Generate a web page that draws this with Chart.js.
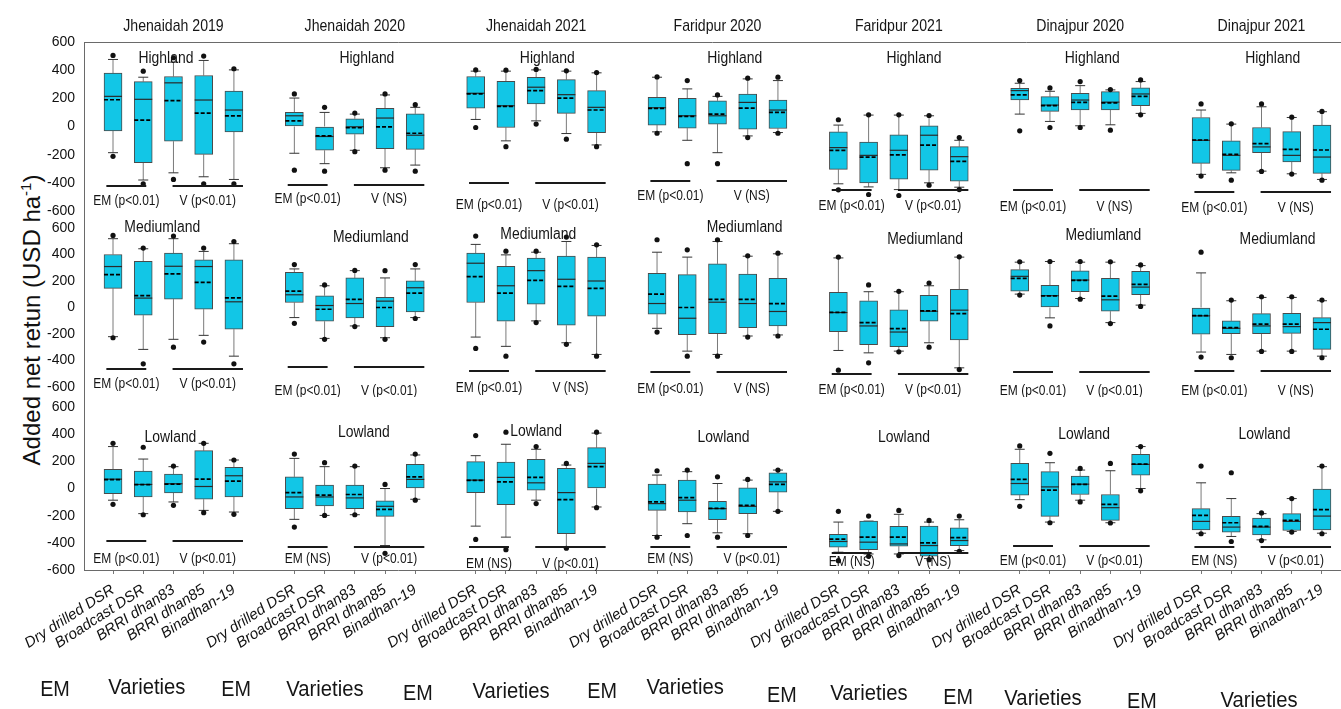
<!DOCTYPE html>
<html>
<head>
<meta charset="utf-8">
<title>Added net return by establishment method and variety</title>
<script src="https://cdn.jsdelivr.net/npm/chart.js@4.4.1/dist/chart.umd.min.js"></script>
<style>
  html, body { margin: 0; padding: 0; background: #fff; }
  #figure { position: relative; width: 1341px; height: 709px; overflow: hidden; }
  #figure canvas { position: absolute; left: 0; }
  #yTitle {
    position: absolute; left: 31px; top: 320px;
    transform: translate(-50%, -50%) rotate(-90deg);
    white-space: nowrap; color: #111;
    font: 24px 'Liberation Sans', Arial, sans-serif;
  }
  #yTitle sup { font-size: 15px; }
</style>
</head>
<body>
<div id="figure">
  <div id="yTitle">Added net retun (USD ha<sup>-1</sup>)</div>
  <canvas id="rowHigh" width="1341" height="220" style="top:0"></canvas>
  <canvas id="rowMedium" width="1341" height="177" style="top:220px"></canvas>
  <canvas id="rowLow" width="1341" height="312" style="top:397px"></canvas>
</div>
<script>
// site-years (columns), land types (rows) and the five treatments in each panel
const sites = ['Jhenaidah 2019', 'Jhenaidah 2020', 'Jhenaidah 2021', 'Faridpur 2020', 'Faridpur 2021', 'Dinajpur 2020', 'Dinajpur 2021'];
const lands = ['Highland', 'Mediumland', 'Lowland'];
const treatments = ['Dry drilled DSR', 'Broadcast DSR', 'BRRI dhan83', 'BRRI dhan85', 'Binadhan-19'];
const yTicks = [-600, -400, -200, 0, 200, 400, 600];

// each box: [lower whisker, Q1, median, Q3, upper whisker, mean, low dot, high dot]
const highland = [
  [[-186, -31, 214, 379, 476, 190, -212, 505], [-380, -257, 193, 319, 350, 45, -407, 393], [-329, -105, 310, 355, 457, 183, -376, 488], [-357, -198, 188, 362, 469, 95, -407, 500], [-376, -38, 117, 252, 402, 76, -407, 410]],
  [[-190, 0, 76, 100, 202, 40, -310, 231], [-264, -169, -71, 0, 100, -66, -317, 136], [-169, -55, -2, 55, 88, -9, -179, 95], [-293, -157, 60, 129, 224, -2, -310, 231], [-274, -162, -62, 90, 136, -48, -317, 155]],
  [[50, 131, 236, 355, 393, 231, -7, 402], [-102, -7, 147, 321, 393, 143, -143, 400], [40, 160, 279, 350, 402, 255, 17, 405], [-50, 93, 226, 333, 393, 202, -90, 395], [-131, -43, 136, 255, 381, 117, -143, 383]],
  [[-38, 10, 133, 207, 350, 129, -48, 352], [-98, -12, 76, 200, 267, 72, -264, 326], [-186, 17, 76, 183, 214, 88, -264, 224], [-67, -19, 171, 231, 338, 131, -79, 343], [-43, -14, 117, 188, 326, 100, -48, 350]],
  [[-407, -305, -150, -38, 10, -169, -450, 48], [-429, -400, -205, -110, 81, -217, -483, 83], [-448, -374, -169, -60, 81, -202, -490, 83], [-400, -310, -62, 5, 76, -133, -417, 78], [-431, -388, -214, -143, -98, -248, -448, -79]],
  [[88, 188, 255, 271, 307, 224, -31, 326], [36, 107, 152, 212, 250, 148, -7, 274], [5, 117, 188, 236, 290, 171, -7, 319], [12, 117, 173, 248, 260, 168, -26, 262], [93, 148, 231, 274, 319, 214, 83, 331]],
  [[-340, -262, -98, 64, 117, -96, -352, 160], [-329, -312, -205, -102, 17, -198, -381, 19], [-317, -186, -145, -7, 140, -121, -319, 160], [-336, -252, -205, -36, 64, -162, -338, 66], [-376, -333, -217, 10, 105, -167, -381, 107]]
];
const mediumland = [
  [[-220, 144, 309, 400, 519, 248, -228, 544], [-316, -58, 71, 349, 443, 89, -425, 448], [-240, 63, 311, 410, 519, 253, -299, 539], [-210, -13, 309, 359, 423, 190, -261, 448], [-367, -164, 43, 359, 481, 73, -425, 498]],
  [[-76, 38, 96, 266, 291, 124, -119, 324], [-233, -104, 15, 89, 164, -13, -240, 170], [-139, -78, 30, 223, 278, 61, -144, 280], [-228, -144, 48, 76, 223, 0, -240, 278], [-76, -33, 149, 202, 291, 109, -83, 324]],
  [[-223, 38, 334, 410, 476, 233, -309, 539], [-293, -104, 164, 311, 397, 109, -367, 425], [-101, 25, 278, 372, 417, 205, -114, 425], [-266, -134, 213, 387, 498, 159, -278, 531], [-354, -66, 200, 380, 468, 144, -367, 473]],
  [[-157, -51, 30, 258, 417, 101, -185, 511], [-329, -205, -81, 248, 380, 0, -367, 435], [-354, -197, 40, 329, 498, 61, -367, 511], [-215, -152, 30, 253, 387, 61, -223, 390], [-207, -139, -30, 220, 405, 30, -215, 410]],
  [[-324, -182, -38, 114, 374, -36, -473, 380], [-342, -281, -139, 51, 119, -114, -417, 170], [-329, -296, -185, -18, 119, -159, -334, 122], [-266, -104, -28, 91, 164, -26, -299, 185], [-455, -245, -20, 137, 380, -46, -468, 382]],
  [[101, 124, 235, 286, 342, 220, 94, 345], [-78, 0, 89, 167, 347, 87, -139, 347], [68, 119, 207, 276, 342, 205, 63, 347], [-114, -28, 58, 220, 342, 86, -121, 345], [18, 96, 154, 273, 316, 175, 8, 321]],
  [[-336, -202, -63, 0, 261, -61, -374, 417], [-354, -197, -157, -101, 51, -152, -379, 56], [-329, -197, -139, -46, 76, -126, -331, 81], [-329, -195, -144, -44, 76, -126, -331, 81], [-367, -316, -114, -76, 51, -164, -379, 56]]
];
const lowland = [
  [[-86, -37, 69, 141, 309, 66, -116, 333], [-185, -62, 30, 128, 217, 28, -193, 304], [-99, -32, 35, 106, 161, 33, -124, 165], [-161, -79, 15, 279, 333, 69, -178, 333], [-173, -62, 94, 156, 210, 54, -190, 210]],
  [[-227, -148, -62, 86, 222, -30, -284, 254], [-198, -128, -62, 25, 161, -49, -198, 190], [-193, -148, -69, 25, 161, -44, -193, 165], [-420, -205, -131, -91, 0, -153, -477, 30], [-79, 5, 67, 178, 247, 86, -86, 254]],
  [[-277, -30, 62, 198, 242, 60, -375, 390], [-358, -119, 82, 195, 326, 49, -450, 415], [-86, -12, 42, 215, 289, 82, -111, 309], [-432, -333, -30, 148, 173, -82, -440, 185], [-136, 0, 185, 301, 408, 161, -141, 415]],
  [[-346, -161, -111, 32, 99, -99, -358, 131], [-259, -173, -86, 62, 124, -67, -346, 136], [-326, -230, -148, -94, 37, -146, -358, 86], [-333, -185, -131, 5, 62, -124, -346, 67], [-168, -27, 49, 116, 136, 30, -168, 136]],
  [[-469, -432, -390, -338, -247, -373, -531, -168], [-482, -450, -395, -240, -240, -358, -499, -203], [-482, -425, -408, -279, -190, -358, -494, -161], [-516, -499, -420, -277, -247, -400, -524, -235], [-457, -420, -383, -289, -230, -361, -462, -203]],
  [[-82, -49, 37, 185, 289, 67, -131, 314], [-247, -205, 12, 124, 190, -12, -252, 259], [-86, -44, 32, 91, 136, 30, -99, 148], [-252, -235, -141, -44, 131, -116, -254, 185], [0, 99, 178, 252, 309, 180, -17, 309]],
  [[-329, -304, -242, -148, 42, -198, -333, 165], [-353, -321, -284, -205, -74, -252, -390, 116], [-378, -341, -284, -217, -185, -279, -383, -180], [-316, -309, -242, -185, -74, -235, -321, -74], [-329, -304, -203, -5, 161, -156, -333, 165]]
];

// ANOVA results: establishment method (EM) and variety (V)
const emTest = [
  ['p<0.01', 'p<0.01', 'p<0.01', 'p<0.01', 'p<0.01', 'p<0.01', 'p<0.01'],
  ['p<0.01', 'p<0.01', 'p<0.01', 'p<0.01', 'p<0.01', 'p<0.01', 'p<0.01'],
  ['p<0.01', 'NS', 'NS', 'NS', 'NS', 'p<0.01', 'NS']
];
const vTest = [
  ['p<0.01', 'NS', 'p<0.01', 'NS', 'p<0.01', 'NS', 'NS'],
  ['p<0.01', 'p<0.01', 'NS', 'NS', 'p<0.01', 'p<0.01', 'NS'],
  ['p<0.01', 'p<0.01', 'p<0.01', 'p<0.01', 'NS', 'p<0.01', 'p<0.01']
];

// annotation placement (axis units)
const sigBarY = [
  [-426, -419, -398, -390, -454, -454, -462],
  [-461, -445, -476, -483, -498, -483, -476],
  [-390, -427, -427, -427, -478, -420, -427]
];
const sigTextY = [
  [-525, -511, -547, -490, -561, -568, -575],
  [-566, -619, -596, -604, -612, -619, -619],
  [-508, -515, -545, -515, -537, -523, -530]
];
const landTagX = [
  [-0.25, 0.4, 0.37, 0.57, 0.5, 0.4, 0.37],
  [-0.37, 0.53, 0.07, 0.9, 0.87, 0.77, 0.53],
  [-0.1, 0.3, 0, 0.2, 0.17, 0.13, 0.1]
];
const landTagY = [
  [451, 451, 451, 451, 451, 451, 451],
  [566, 491, 513, 566, 476, 506, 476],
  [339, 383, 390, 339, 339, 368, 368]
];
// group captions under the axis: x in slots from the first box, baseline in page px
const emTagX = [-1.92, -1.93, -1.91, -1.82, -1.87, -2.04, -1.96];
const varTagX = [1.12, 1.01, 1.17, 0.93, 1.01, 0.77, 1.92];
const emTagBase = [696, 696, 700, 698, 702, 704, 708];
const varTagBase = [694, 696, 698, 694, 700, 705, 707];

const FONT = "'Liberation Sans', Arial, sans-serif";
const BOX_FILL = '#12c6e6';
Chart.defaults.font.family = FONT;

// every panel has 5 boxes plus one empty slot as a gap
const slot = (p, k) => p * 6 + k;
const xSlots = [];
sites.forEach((s, p) => treatments.forEach((t, k) => xSlots.push(slot(p, k))));

function squeezed(ctx, text, x, y, size, sx, align) {
  ctx.save();
  ctx.font = size + 'px ' + FONT;
  ctx.fillStyle = '#151515';
  ctx.textAlign = align || 'center';
  ctx.textBaseline = 'alphabetic';
  ctx.translate(x, y);
  ctx.scale(sx, 1);
  ctx.fillText(text, 0, 0);
  ctx.restore();
}

// whiskers, caps, median and mean lines around each floating bar
const boxStats = {
  id: 'boxStats',
  beforeDatasetsDraw(chart) {
    const {ctx, scales: {y}} = chart;
    const meta = chart.getDatasetMeta(1);
    ctx.save();
    meta.data.forEach((bar, i) => {
      const s = chart.data.datasets[1].data[i].stats;
      const yLo = y.getPixelForValue(s[0]), yHi = y.getPixelForValue(s[4]);
      ctx.strokeStyle = '#7a7a7a';
      ctx.lineWidth = 1;
      ctx.beginPath();
      ctx.moveTo(bar.x, y.getPixelForValue(s[3]));
      ctx.lineTo(bar.x, yHi);
      ctx.moveTo(bar.x, y.getPixelForValue(s[1]));
      ctx.lineTo(bar.x, yLo);
      ctx.stroke();
      ctx.strokeStyle = '#333';
      ctx.beginPath();
      ctx.moveTo(bar.x - 5, yHi);
      ctx.lineTo(bar.x + 5, yHi);
      ctx.moveTo(bar.x - 5, yLo);
      ctx.lineTo(bar.x + 5, yLo);
      ctx.stroke();
    });
    ctx.restore();
  },
  afterDatasetsDraw(chart) {
    const {ctx, scales: {y}} = chart;
    const meta = chart.getDatasetMeta(1);
    ctx.save();
    meta.data.forEach((bar, i) => {
      const s = chart.data.datasets[1].data[i].stats;
      const half = bar.width / 2;
      ctx.strokeStyle = '#2a2a2a';
      ctx.lineWidth = 1.2;
      ctx.setLineDash([]);
      ctx.beginPath();
      ctx.moveTo(bar.x - half, y.getPixelForValue(s[2]));
      ctx.lineTo(bar.x + half, y.getPixelForValue(s[2]));
      ctx.stroke();
      ctx.strokeStyle = '#000';
      ctx.lineWidth = 1.7;
      ctx.setLineDash([4, 2]);
      ctx.beginPath();
      ctx.moveTo(bar.x - half, y.getPixelForValue(s[5]));
      ctx.lineTo(bar.x + half, y.getPixelForValue(s[5]));
      ctx.stroke();
    });
    ctx.restore();
  }
};

// panel titles, land labels, significance bars and group captions
function panelNotes(r) {
  return {
    id: 'panelNotes',
    afterDraw(chart) {
      const {ctx, chartArea, scales: {x, y}} = chart;
      const top = chart.canvas.offsetTop;
      ctx.save();
      if (r === 0) {
        ctx.strokeStyle = '#6a6a6a';
        ctx.lineWidth = 1;
        ctx.beginPath();
        ctx.moveTo(chartArea.left, chartArea.top + 0.5);
        ctx.lineTo(chartArea.right, chartArea.top + 0.5);
        ctx.stroke();
      }
      sites.forEach((site, p) => {
        if (r === 0) {
          squeezed(ctx, site, x.getPixelForValue(slot(p, 2)), 30.5, 17, 0.83);
        }
        squeezed(ctx, lands[r], x.getPixelForValue(slot(p, 2 + landTagX[r][p])),
          y.getPixelForValue(landTagY[r][p]), 16, 0.87);

        const barY = Math.round(y.getPixelForValue(sigBarY[r][p]));
        const em0 = x.getPixelForValue(slot(p, -0.22)), em1 = x.getPixelForValue(slot(p, 1.1));
        const v0 = x.getPixelForValue(slot(p, 1.97)), v1 = x.getPixelForValue(slot(p, 4.3));
        ctx.strokeStyle = '#1a1a1a';
        ctx.lineWidth = 2;
        ctx.beginPath();
        ctx.moveTo(em0, barY);
        ctx.lineTo(em1, barY);
        ctx.moveTo(v0, barY);
        ctx.lineTo(v1, barY);
        ctx.stroke();
        const textY = y.getPixelForValue(sigTextY[r][p]) + 5;
        squeezed(ctx, 'EM (' + emTest[r][p] + ')', (em0 + em1) / 2, textY, 15, 0.8);
        squeezed(ctx, 'V (' + vTest[r][p] + ')', (v0 + v1) / 2, textY, 15, 0.8);

        if (r === 2) {
          squeezed(ctx, 'EM', x.getPixelForValue(slot(p, emTagX[p])), emTagBase[p] - top, 22, 0.9);
          squeezed(ctx, 'Varieties', x.getPixelForValue(slot(p, varTagX[p])), varTagBase[p] - top, 22, 0.92);
        }
      });
      ctx.restore();
    }
  };
}

const rows = [
  {id: 'rowHigh', boxes: highland, min: -664, max: 600, padTop: 42},
  {id: 'rowMedium', boxes: mediumland, min: -675, max: 660, padTop: 0},
  {id: 'rowLow', boxes: lowland, min: -600, max: 674, padTop: 0}
];

rows.forEach((row, r) => {
  const boxData = [];
  const dotData = [];
  row.boxes.forEach((panel, p) => panel.forEach((b, k) => {
    boxData.push({x: slot(p, k), y: [b[1], b[3]], stats: b});
    dotData.push({x: slot(p, k), y: b[6]}, {x: slot(p, k), y: b[7]});
  }));
  const showX = r === 2;

  new Chart(document.getElementById(row.id), {
    type: 'bar',
    data: {
      datasets: [
        {
          type: 'scatter',
          data: dotData,
          pointRadius: 2.6,
          pointBackgroundColor: '#111',
          pointBorderWidth: 0
        },
        {
          type: 'bar',
          data: boxData,
          backgroundColor: BOX_FILL,
          borderColor: '#4a4a4a',
          borderWidth: 1,
          borderSkipped: false,
          barThickness: 18
        }
      ]
    },
    options: {
      responsive: false,
      animation: false,
      events: [],
      layout: {padding: {top: row.padTop, left: 0, right: 0, bottom: 0}, autoPadding: false},
      plugins: {legend: {display: false}, tooltip: {enabled: false}},
      scales: {
        x: {
          type: 'linear',
          display: showX,
          min: -0.96,
          max: 40.63,
          offset: false,
          afterBuildTicks: s => { s.ticks = xSlots.map(v => ({value: v})); },
          afterFit: s => {
            if (showX) s.height = 139;
            s.paddingLeft = 0; s.paddingRight = 0;
          },
          grid: {offset: false, drawOnChartArea: false, drawTicks: true, tickLength: 4, color: '#777'},
          border: {display: true, color: '#6a6a6a', width: 1},
          ticks: {
            autoSkip: false,
            minRotation: 33,
            maxRotation: 33,
            padding: 7,
            color: '#111',
            font: {size: 15, style: 'italic'},
            callback: v => treatments[((Math.round(v) % 6) + 6) % 6] || ''
          }
        },
        y: {
          type: 'linear',
          min: row.min,
          max: row.max,
          afterBuildTicks: s => { s.ticks = yTicks.map(v => ({value: v})); },
          afterFit: s => { s.width = 84; s.paddingTop = 0; s.paddingBottom = 0; },
          grid: {drawOnChartArea: false, drawTicks: false},
          border: {display: true, color: '#6a6a6a', width: 1},
          ticks: {padding: 9, color: '#111', font: {size: 14}}
        }
      }
    },
    plugins: [boxStats, panelNotes(r)]
  });
});
</script>
</body>
</html>
